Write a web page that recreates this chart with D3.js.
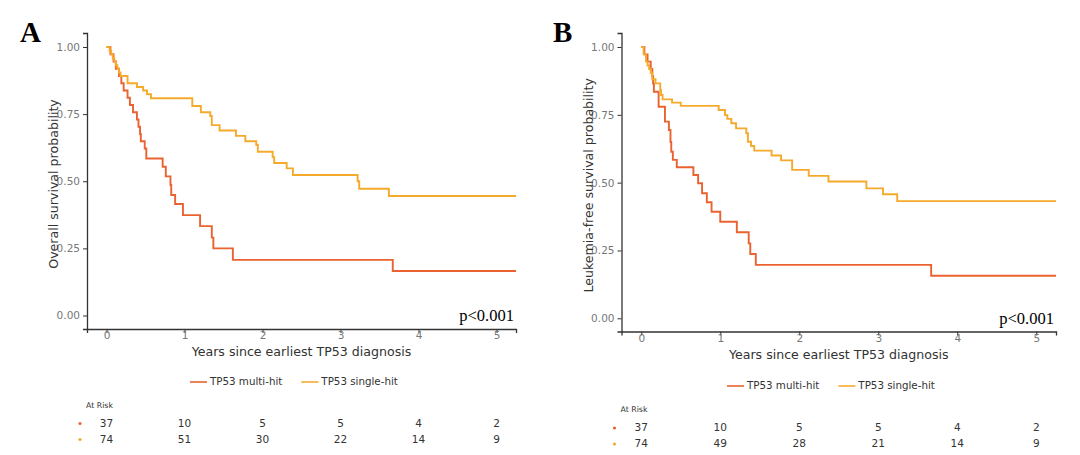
<!DOCTYPE html>
<html><head><meta charset="utf-8">
<script src="https://cdn.jsdelivr.net/npm/d3@7"></script>
<style>
html,body{margin:0;padding:0;background:#fff;}
svg{display:block;font-family:"DejaVu Sans",Verdana,sans-serif;}
</style></head>
<body>
<svg id="chart" width="1080" height="455"></svg>
<script>
// ---------------- DATA ----------------
const seriesNames = ["TP53 multi-hit", "TP53 single-hit"];
const seriesColors = ["#EA6230", "#F5AA2C"];
const xTicks = [0, 1, 2, 3, 4, 5];
const yTicks = [0, 0.25, 0.5, 0.75, 1];
const xMax = 5.25;

// Panel A: overall survival
const osMultiTime = [0, 0.05, 0.09, 0.12, 0.16, 0.19, 0.22, 0.27, 0.30, 0.34, 0.39, 0.41, 0.43, 0.44, 0.49, 0.51, 0.72, 0.76, 0.82, 0.83, 0.88, 0.98, 1.20, 1.35, 1.37, 1.62, 3.67];
const osMultiSurv = [1, 0.973, 0.946, 0.919, 0.892, 0.865, 0.838, 0.811, 0.784, 0.757, 0.730, 0.703, 0.676, 0.649, 0.622, 0.585, 0.554, 0.518, 0.486, 0.449, 0.415, 0.374, 0.333, 0.290, 0.250, 0.207, 0.166];
const osSingleTime = [0, 0.04, 0.06, 0.08, 0.10, 0.12, 0.14, 0.16, 0.18, 0.27, 0.39, 0.47, 0.52, 0.57, 1.10, 1.21, 1.33, 1.35, 1.45, 1.66, 1.78, 1.92, 1.94, 2.13, 2.15, 2.31, 2.39, 3.22, 3.24, 3.62];
const osSingleSurv = [1, 0.986, 0.973, 0.959, 0.946, 0.932, 0.919, 0.905, 0.892, 0.865, 0.851, 0.838, 0.824, 0.809, 0.780, 0.757, 0.743, 0.709, 0.689, 0.669, 0.649, 0.635, 0.610, 0.590, 0.568, 0.548, 0.523, 0.500, 0.472, 0.445];

// Panel B: leukemia-free survival
const lfsMultiTime = [0, 0.04, 0.08, 0.12, 0.14, 0.15, 0.16, 0.22, 0.30, 0.35, 0.37, 0.38, 0.40, 0.45, 0.66, 0.72, 0.77, 0.83, 0.89, 1.00, 1.21, 1.36, 1.38, 1.45, 3.67];
const lfsMultiSurv = [1, 0.973, 0.946, 0.919, 0.892, 0.865, 0.835, 0.780, 0.725, 0.694, 0.650, 0.614, 0.584, 0.557, 0.528, 0.498, 0.461, 0.428, 0.393, 0.356, 0.317, 0.276, 0.237, 0.197, 0.157];
const lfsSingleTime = [0, 0.03, 0.06, 0.08, 0.10, 0.12, 0.14, 0.18, 0.24, 0.25, 0.27, 0.39, 0.50, 0.98, 1.06, 1.09, 1.14, 1.20, 1.33, 1.35, 1.39, 1.43, 1.65, 1.77, 1.91, 2.12, 2.37, 2.85, 3.06, 3.24];
const lfsSingleSurv = [1, 0.973, 0.946, 0.932, 0.919, 0.905, 0.881, 0.866, 0.842, 0.823, 0.807, 0.795, 0.783, 0.768, 0.749, 0.735, 0.719, 0.700, 0.682, 0.651, 0.635, 0.618, 0.600, 0.582, 0.547, 0.525, 0.504, 0.479, 0.457, 0.432];

// Numbers at risk (at x ticks)
const osAtRiskMulti = [37, 10, 5, 5, 4, 2];
const osAtRiskSingle = [74, 51, 30, 22, 14, 9];
const lfsAtRiskMulti = [37, 10, 5, 5, 4, 2];
const lfsAtRiskSingle = [74, 49, 28, 21, 14, 9];

const panelLetters = ["A", "B"];
const yTitles = ["Overall survival probability", "Leukemia-free survival probability"];
const xTitle = "Years since earliest TP53 diagnosis";
const pText = "p<0.001";
const atRiskTitle = "At Risk";

// ---------------- LAYOUT ----------------
const panels = [
  {letter: panelLetters[0], yTitle: yTitles[0],
   series: [[osMultiTime, osMultiSurv], [osSingleTime, osSingleSurv]],
   risk: [osAtRiskMulti, osAtRiskSingle],
   L: 87, R: 516, axTop: 33, axBot: 329, y1: 47, y0: 315.5,
   letterX: 20, letterY: 42, yTitleX: 54, tickLabY: 336, xTitleY: 355.5,
   pY: 321, legY: 382, legX: 190, riskTitleY: 408, riskY: [423.5, 439.5]},
  {letter: panelLetters[1], yTitle: yTitles[1],
   series: [[lfsMultiTime, lfsMultiSurv], [lfsSingleTime, lfsSingleSurv]],
   risk: [lfsAtRiskMulti, lfsAtRiskSingle],
   L: 621.5, R: 1056, axTop: 33, axBot: 331.5, y1: 47, y0: 318.3,
   letterX: 553, letterY: 42, yTitleX: 589, tickLabY: 339, xTitleY: 358.5,
   pY: 324, legY: 386, legX: 727, riskTitleY: 412, riskY: [428, 444]}
];

const svg = d3.select("#chart");

panels.forEach(p => {
  const x = d3.scaleLinear().domain([-0.25, xMax]).range([p.L, p.R]);
  const y = d3.scaleLinear().domain([0, 1]).range([p.y0, p.y1]);
  const g = svg.append("g");

  // panel letter
  g.append("text").attr("x", p.letterX).attr("y", p.letterY)
    .attr("font-family", "'Liberation Serif','Times New Roman',serif")
    .attr("font-weight", "bold").attr("font-size", 29).attr("fill", "#000")
    .text(p.letter);

  // curves
  const line = d3.line().x(d => x(d[0])).y(d => y(d[1])).curve(d3.curveStepAfter);
  p.series.forEach((s, i) => {
    const pts = s[0].map((t, k) => [t, s[1][k]]);
    pts.push([xMax, s[1][s[1].length - 1]]);
    g.append("path").datum(pts).attr("d", line)
      .attr("fill", "none").attr("stroke", seriesColors[i])
      .attr("stroke-width", 1.9).attr("stroke-linejoin", "miter");
  });

  // axes
  const yAxisScale = d3.scaleLinear()
    .domain([y.invert(p.axBot), y.invert(p.axTop)]).range([p.axBot, p.axTop]);
  const yAx = g.append("g").attr("transform", `translate(${p.L},0)`)
    .call(d3.axisLeft(yAxisScale).tickValues(yTicks).tickFormat(d3.format(".2f"))
      .tickSizeOuter(0).tickSize(4).tickPadding(3));
  const xAx = g.append("g").attr("transform", `translate(0,${p.axBot})`)
    .call(d3.axisBottom(x).tickValues(xTicks).tickFormat(d3.format("d"))
      .tickSizeOuter(0).tickSize(4).tickPadding(3));
  [yAx, xAx].forEach(a => {
    a.select(".domain").attr("stroke", "#333").attr("stroke-width", 1.3);
    a.selectAll(".tick line").attr("stroke", "#333").attr("stroke-width", 1);
    a.selectAll(".tick text").attr("fill", "#777").attr("font-size", 10.5)
      .attr("font-family", "'DejaVu Sans',Verdana,sans-serif");
  });
  xAx.selectAll(".tick text").attr("dy", null).attr("y", p.tickLabY - p.axBot)
    .attr("dominant-baseline", "middle");

  // axis titles
  g.append("text").attr("x", (p.L + p.R) / 2).attr("y", p.xTitleY)
    .attr("text-anchor", "middle").attr("font-size", 12.6).attr("fill", "#333")
    .text(xTitle);
  g.append("text")
    .attr("transform", `translate(${p.yTitleX},${(p.axTop + p.axBot) / 2 + 3}) rotate(-90)`)
    .attr("text-anchor", "middle").attr("dominant-baseline", "middle")
    .attr("font-size", 12.6).attr("fill", "#333")
    .text(p.yTitle);

  // p-value
  g.append("text").attr("x", p.R - 2).attr("y", p.pY).attr("text-anchor", "end")
    .attr("font-family", "'Liberation Serif','Times New Roman',serif")
    .attr("font-size", 16.5).attr("fill", "#000").text(pText);

  // legend
  let lx = p.legX;
  seriesNames.forEach((nm, i) => {
    g.append("line").attr("x1", lx).attr("x2", lx + 17).attr("y1", p.legY).attr("y2", p.legY)
      .attr("stroke", seriesColors[i]).attr("stroke-width", 1.6);
    const t = g.append("text").attr("x", lx + 20).attr("y", p.legY)
      .attr("dominant-baseline", "middle").attr("font-size", 10.3).attr("fill", "#333")
      .text(nm);
    lx += 20 + t.node().getComputedTextLength() + 19;
  });

  // at risk table
  g.append("text").attr("x", p.L - 1).attr("y", p.riskTitleY)
    .attr("font-size", 7.8).attr("fill", "#333").text(atRiskTitle);
  p.risk.forEach((row, i) => {
    g.append("circle").attr("cx", p.L - 7).attr("cy", p.riskY[i]).attr("r", 1.6)
      .attr("fill", seriesColors[i]);
    g.selectAll(null).data(row).enter().append("text")
      .attr("x", (d, k) => x(xTicks[k])).attr("y", p.riskY[i])
      .attr("text-anchor", "middle").attr("dominant-baseline", "middle")
      .attr("font-size", 10.5).attr("fill", "#333").text(d => d);
  });
});
</script>
</body></html>
